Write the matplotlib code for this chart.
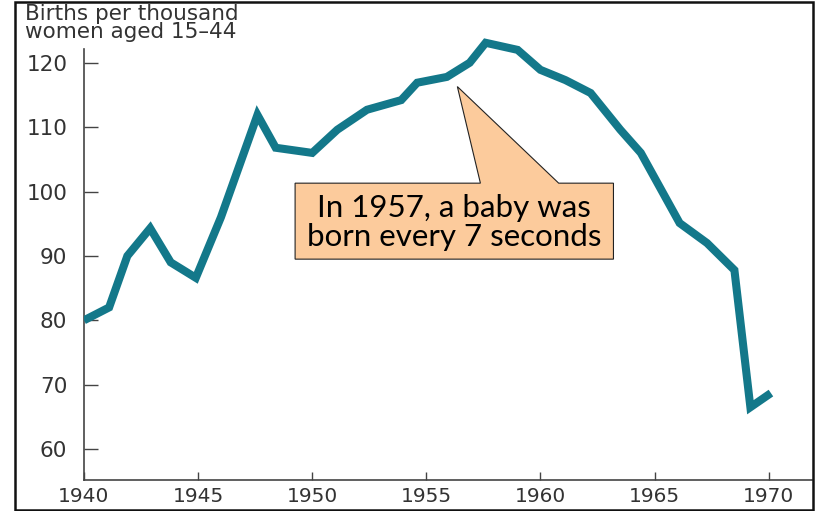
import matplotlib
matplotlib.use("Agg")
import matplotlib.pyplot as plt
from matplotlib.patches import Polygon, Rectangle

# Fertility rate (x positions as drawn)
years = [1940.0, 1941.1, 1941.9, 1942.9, 1943.8, 1944.9, 1946.0, 1947.6, 1948.4,
         1950.0, 1951.1, 1952.4, 1953.9, 1954.6, 1955.9, 1956.9, 1957.6, 1959.0,
         1960.0, 1961.1, 1962.2, 1963.5, 1964.4, 1966.1, 1967.3, 1968.5, 1969.2,
         1970.1]
rates = [80.0, 82.0, 90.0, 94.3, 89.0, 86.6, 96.0, 111.9, 106.8,
         106.0, 109.6, 112.7, 114.2, 116.9, 117.8, 120.0, 123.1, 122.0,
         118.9, 117.3, 115.3, 109.6, 106.0, 95.1, 92.0, 87.8, 66.5,
         68.7]

x_ticks = [1940, 1945, 1950, 1955, 1960, 1965, 1970]
y_ticks = [60, 70, 80, 90, 100, 110, 120]
y_title = "Births per thousand\nwomen aged 15\u201344"
callout = "In 1957, a baby was\nborn every 7 seconds"

W, H = 816, 511
fig = plt.figure(figsize=(W / 100, H / 100), dpi=100)
ax = fig.add_axes([84 / W, 31 / H, (812 - 84) / W, (480 - 37) / H])

line_color = "#13788a"
ax.plot(years, rates, color=line_color, lw=5.8, solid_joinstyle="miter",
        solid_capstyle="butt", zorder=3)

ax.set_xlim(1940, 1971.9)
ax.set_ylim(55.2, 124)
ax.set_xticks(x_ticks)
ax.set_yticks(y_ticks)

tick_font = {"family": "DejaVu Sans", "size": 15.5, "color": "#333333"}
ax.set_xticklabels([str(t) for t in x_ticks], fontdict=dict(tick_font, size=14.5))
ax.set_yticklabels([str(t) for t in y_ticks], fontdict=tick_font)
ax.tick_params(axis="y", direction="in", length=10, width=1.0, color="#444444", pad=12)
ax.tick_params(axis="x", direction="in", length=6, width=1.0, color="#444444", pad=5)

for s in ["top", "right"]:
    ax.spines[s].set_visible(False)
for s in ["left", "bottom"]:
    ax.spines[s].set_color("#444444")
    ax.spines[s].set_linewidth(1.2)
ax.spines["left"].set_bounds(55.2, 122.2)

fig.text(25 / W, 1 - 4 / H, y_title, ha="left", va="top", family="DejaVu Sans",
         fontsize=15.5, color="#333333", linespacing=0.9)

# callout box with pointer
bx0, bx1, by0, by1 = 1949.25, 1963.2, 89.5, 101.3
tip = (1956.36, 116.3)
base0, base1 = 1957.37, 1960.8
shape = [(bx0, by0), (bx0, by1), (base0, by1), tip, (base1, by1), (bx1, by1), (bx1, by0)]
ax.add_patch(Polygon(shape, closed=True, facecolor="#fccb9c", edgecolor="#222222",
                     lw=0.8, zorder=4, clip_on=False))
ax.text((bx0 + bx1) / 2, (by0 + by1) / 2 - 0.2, callout, ha="center", va="center",
        family="Lato", fontsize=22.5, color="#000000", linespacing=1.02, zorder=5)

# outer frame
fig.patches.append(Rectangle((15 / W, 1.5 / H), (813 - 15) / W, (509.5 - 1.5) / H,
                             transform=fig.transFigure, fill=False,
                             edgecolor="#111111", lw=1.8))

fig.savefig("out.png", dpi=100)
